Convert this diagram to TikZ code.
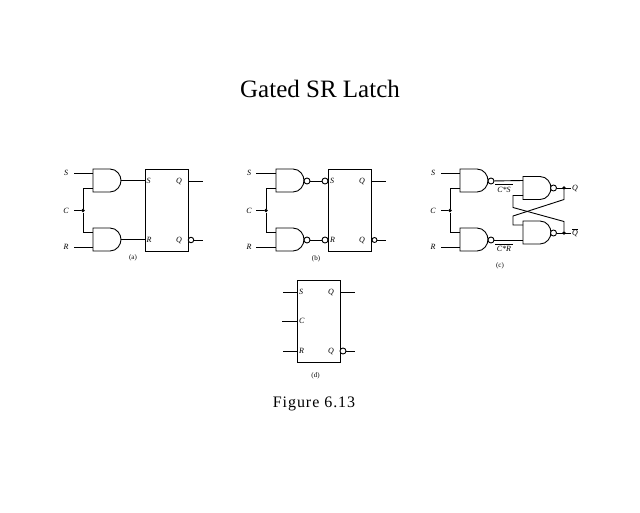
\documentclass[tikz,border=0pt]{standalone}
\usepackage{fontspec}
\setmainfont{Liberation Serif}
\usetikzlibrary{calc}
\tikzset{
  wire/.style={draw=black, line width=0.9pt},
  gatebody/.style={draw=black, line width=0.9pt},
  bub/.style={circle, draw=black, line width=0.9pt, fill=white, inner sep=0pt, minimum size=6pt},
  jdot/.style={circle, fill=black, inner sep=0pt, minimum size=3.6pt},
  lbox/.style={rectangle, draw=black, line width=0.9pt, minimum width=43pt, minimum height=82pt, inner sep=0pt},
  pinlbl/.style={font=\fontsize{8}{9}\selectfont\itshape, inner sep=0pt},
  caplbl/.style={font=\fontsize{7}{8}\selectfont, inner sep=0pt},
  andg/.pic={
    \draw[gatebody] (0,-11.5) -- (17,-11.5) .. controls (24,-11.5) and (28,-5) .. (28,0)
      .. controls (28,5) and (24,11.5) .. (17,11.5) -- (0,11.5) -- cycle;
    \coordinate (-in1) at (0,-7.5);
    \coordinate (-in2) at (0,7.5);
    \coordinate (-out) at (28,0);
  }
}

\begin{document}
\begin{tikzpicture}[x=1pt, y=-1pt]
  \useasboundingbox (0,0) rectangle (640,512);

  \node[font=\fontsize{25}{28}\selectfont] (title) at (320,89) {Gated SR Latch};
  \node[font=\fontsize{16}{18}\selectfont] (figcap) at (314,404) {\addfontfeatures{LetterSpace=6}Figure 6.13};

  % panel (a)
  \pic (ga) at (93,180.5) {andg};
  \pic (gb) at (93,239.5) {andg};
  \node[lbox] (la) at (166.5,210) {};
  \node[pinlbl] (sa) at (66,173) {S};
  \node[pinlbl] (ca) at (66,210.5) {C};
  \node[pinlbl] (ra) at (66,247) {R};
  \coordinate (saw) at (74,173);
  \coordinate (caw) at (74,210.5);
  \coordinate (raw) at (74,247);
  \node[jdot] (ja) at (83,210.5) {};
  \draw[wire] (saw) -- (ga-in1);
  \draw[wire] (raw) -- (gb-in2);
  \draw[wire] (caw) -- (ja);
  \draw[wire] (ga-in2) -| (ja) |- (gb-in1);
  \draw[wire] (ga-out) -- (145,180.5);
  \draw[wire] (gb-out) -- (145,239.5);
  \node[pinlbl, right=1.5pt] (lsa) at (145,181) {S};
  \node[pinlbl, right=1.5pt] (lra) at (145,240) {R};
  \node[pinlbl, left=5pt] (qa) at (187,181) {Q};
  \node[pinlbl, left=5pt] (qba) at (187,240) {Q};
  \node[bub, minimum size=5.5pt] (boa) at (191,240) {};
  \coordinate (qae) at (203,181);
  \coordinate (qbe) at (203,240);
  \draw[wire] (188,181) -- (qae);
  \draw[wire] (boa) -- (qbe);
  \node[caplbl] (capa) at (133,258) {(a)};

  % panel (b)
  \pic (gc) at (276,180.5) {andg};
  \pic (gd) at (276,239.5) {andg};
  \node[lbox] (lb) at (350,210) {};
  \node[pinlbl] (sb) at (249,173) {S};
  \node[pinlbl] (cb) at (249,210.5) {C};
  \node[pinlbl] (rb) at (249,247) {R};
  \coordinate (sbw) at (256,173);
  \coordinate (cbw) at (256,210.5);
  \coordinate (rbw) at (256,247);
  \node[jdot] (jb) at (266,210.5) {};
  \draw[wire] (sbw) -- (gc-in1);
  \draw[wire] (rbw) -- (gd-in2);
  \draw[wire] (cbw) -- (jb);
  \draw[wire] (gc-in2) -| (jb) |- (gd-in1);
  \node[bub] (boc) at (307,181) {};
  \node[bub] (bod) at (307,240) {};
  \node[bub] (bic) at (325,181) {};
  \node[bub] (bid) at (325,240) {};
  \draw[wire] (boc) -- (bic);
  \draw[wire] (bod) -- (bid);
  \node[pinlbl, right=1.5pt] (lsb) at (328.5,181) {S};
  \node[pinlbl, right=1.5pt] (lrb) at (328.5,240) {R};
  \node[pinlbl, left=5pt] (qb) at (370,181) {Q};
  \node[pinlbl, left=5pt] (qbb) at (370,240) {Q};
  \node[bub, minimum size=5pt] (bob) at (374.5,240) {};
  \coordinate (qbe2) at (386,181);
  \coordinate (qbe3) at (386,240);
  \draw[wire] (371.5,181) -- (qbe2);
  \draw[wire] (bob) -- (qbe3);
  \node[caplbl] (capb) at (316,259) {(b)};

  % panel (c)
  \pic (ge) at (460,180.5) {andg};
  \pic (gf) at (460,239.5) {andg};
  \pic (gg) at (523,188) {andg};
  \pic (gh) at (523,232.5) {andg};
  \node[pinlbl] (sc) at (433,173) {S};
  \node[pinlbl] (cc) at (433,210.5) {C};
  \node[pinlbl] (rc) at (433,247) {R};
  \coordinate (scw) at (441,173);
  \coordinate (ccw) at (441,210.5);
  \coordinate (rcw) at (441,247);
  \node[jdot] (jc) at (450,210.5) {};
  \draw[wire] (scw) -- (ge-in1);
  \draw[wire] (rcw) -- (gf-in2);
  \draw[wire] (ccw) -- (jc);
  \draw[wire] (ge-in2) -| (jc) |- (gf-in1);
  \node[bub] (boe) at (491,181) {};
  \node[bub] (bof) at (491,240) {};
  \node[bub] (bog) at (553.5,188) {};
  \node[bub] (boh) at (553.5,233) {};
  \draw[wire] (boe) -- (gg-in1);
  \draw[wire] (bof) -- (gh-in2);
  \node[jdot] (jq) at (564,188) {};
  \node[jdot] (jn) at (564,233) {};
  \node[pinlbl] (qc) at (575,188) {Q};
  \node[pinlbl] (qn) at (575,232.5) {$\overline{\mbox{Q}}$};
  \coordinate (qce) at (571,188);
  \coordinate (qne) at (571,233);
  \draw[wire] (bog) -- (qce);
  \draw[wire] (boh) -- (qne);
  % cross coupling
  \coordinate (xa) at (564,199.5);
  \coordinate (xb) at (513,216);
  \coordinate (xc) at (564,221.5);
  \coordinate (xd) at (513,207.5);
  \draw[wire] (jq) -- (xa) -- (xb) |- (gh-in1);
  \draw[wire] (jn) -- (xc) -- (xd) |- (gg-in2);
  \node[pinlbl] (cs) at (504,190) {C*S};
  \node[pinlbl] (cr) at (504,249) {C*R};
  \draw[wire, line width=0.7pt] (495,184.5) -- (513,184.5);
  \draw[wire, line width=0.7pt] (495,244.5) -- (513,244.5);
  \node[caplbl] (capc) at (500,266) {(c)};

  % panel (d)
  \node[lbox] (ld) at (318.5,321) {};
  \node[pinlbl, right=2pt] (lsd) at (297,292) {S};
  \node[pinlbl, right=2pt] (lcd) at (297,321) {C};
  \node[pinlbl, right=2pt] (lrd) at (297,351) {R};
  \node[pinlbl, left=5pt] (qd) at (339,292) {Q};
  \node[pinlbl, left=5pt] (qbd) at (339,351) {Q};
  \node[bub] (bdo) at (343,351) {};
  \coordinate (sdw) at (283,292);
  \coordinate (cdw) at (282,321);
  \coordinate (rdw) at (283,351);
  \coordinate (qde) at (355,292);
  \coordinate (qdf) at (355,351);
  \draw[wire] (sdw) -- (297,292);
  \draw[wire] (cdw) -- (297,321);
  \draw[wire] (rdw) -- (297,351);
  \draw[wire] (340,292) -- (qde);
  \draw[wire] (bdo) -- (qdf);
  \node[caplbl] (capd) at (315.5,376) {(d)};
\end{tikzpicture}
\end{document}
